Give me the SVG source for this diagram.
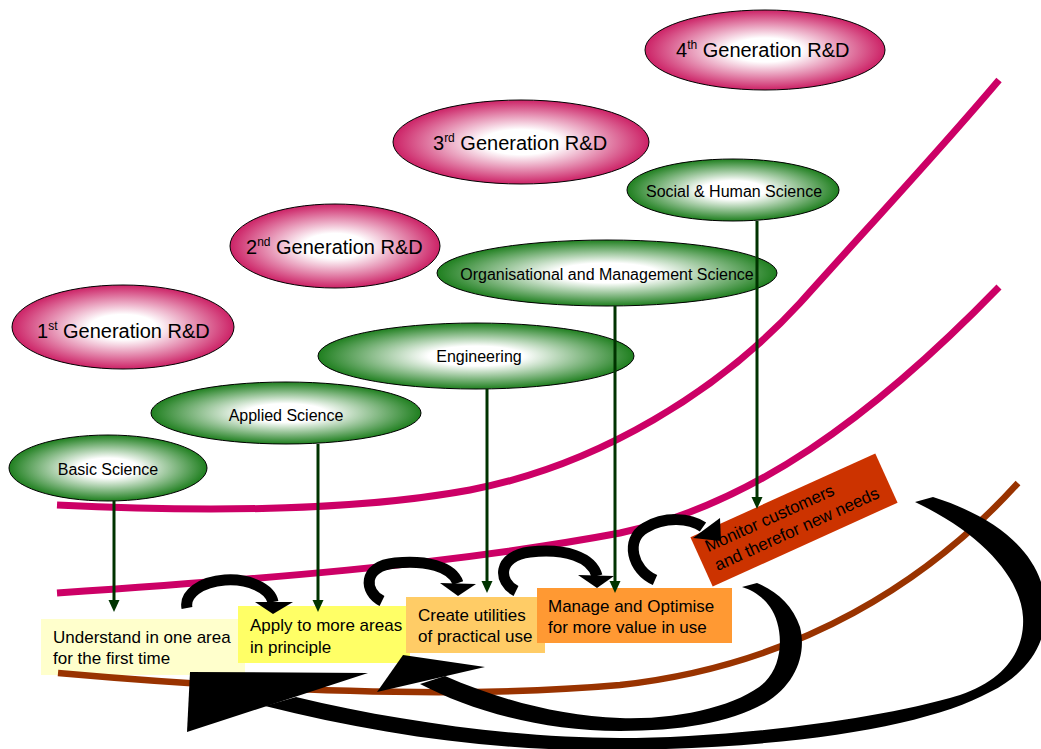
<svg xmlns="http://www.w3.org/2000/svg" width="1041" height="749" viewBox="0 0 1041 749">
<defs>
<radialGradient id="gPink" cx="50%" cy="50%" r="50%">
<stop offset="0" stop-color="#ffffff"/>
<stop offset="0.3" stop-color="#ffffff"/>
<stop offset="1" stop-color="#CC2266"/>
</radialGradient>
<radialGradient id="gGreen" cx="50%" cy="50%" r="50%">
<stop offset="0" stop-color="#ffffff"/>
<stop offset="0.3" stop-color="#ffffff"/>
<stop offset="1" stop-color="#1F7F1F"/>
</radialGradient>
<marker id="gArrow" viewBox="0 0 12 12" refX="2" refY="6" markerWidth="12" markerHeight="12" markerUnits="userSpaceOnUse" orient="auto">
<path d="M0,0.5 L12,6 L0,11.5 Z" fill="#003300"/>
</marker>
<style>
.pinkEl{fill:url(#gPink);stroke:#000;stroke-width:1}
.greenEl{fill:url(#gGreen);stroke:#000;stroke-width:1}
.gen{font-family:"Liberation Sans",Arial,sans-serif;font-size:20px;fill:#000}
.sci{font-family:"Liberation Sans",Arial,sans-serif;font-size:16px;fill:#000}
.box{font-family:"Liberation Sans",Arial,sans-serif;font-size:17px;fill:#000}
.band{fill:none;stroke-linecap:butt}
.gline{stroke:#003300;stroke-width:3;fill:none;marker-end:url(#gArrow)}
.arc{fill:none;stroke:#000;stroke-width:11;stroke-linecap:butt}
.blk{fill:#000}
</style>
</defs>

<g id="bands">
<path class="band" d="M57,505 C200,512 350,512 470,490 C600,465 720,390 800,303 C870,225 940,150 999,80" stroke="#CC0066" stroke-width="7"/>
<path class="band" d="M57,593 C250,580 450,565 620,533 C750,505 870,420 999,287" stroke="#CC0066" stroke-width="7"/>
</g>

<g id="gen1"><ellipse class="pinkEl" cx="123" cy="327" rx="111" ry="42"/><text class="gen" x="37" y="338">1<tspan dy="-8" font-size="12">st</tspan><tspan dy="8"> Generation R&amp;D</tspan></text></g>
<g id="gen2"><ellipse class="pinkEl" cx="335" cy="246" rx="105" ry="42"/><text class="gen" x="246" y="254">2<tspan dy="-8" font-size="12">nd</tspan><tspan dy="8"> Generation R&amp;D</tspan></text></g>
<g id="gen3"><ellipse class="pinkEl" cx="521" cy="142" rx="128" ry="42"/><text class="gen" x="433" y="150">3<tspan dy="-8" font-size="12">rd</tspan><tspan dy="8"> Generation R&amp;D</tspan></text></g>
<g id="gen4"><ellipse class="pinkEl" cx="765" cy="50" rx="120" ry="40"/><text class="gen" x="676" y="57">4<tspan dy="-8" font-size="12">th</tspan><tspan dy="8"> Generation R&amp;D</tspan></text></g>

<g id="basic"><ellipse class="greenEl" cx="108" cy="468" rx="99" ry="33"/><text class="sci" x="108" y="475" text-anchor="middle">Basic Science</text></g>
<g id="applied"><ellipse class="greenEl" cx="286" cy="413" rx="135" ry="31"/><text class="sci" x="286" y="421" text-anchor="middle">Applied Science</text></g>
<g id="engineering"><ellipse class="greenEl" cx="476" cy="356" rx="158" ry="33"/><text class="sci" x="479" y="362" text-anchor="middle">Engineering</text></g>
<g id="orgmgmt"><ellipse class="greenEl" cx="607" cy="273" rx="170" ry="33"/><text class="sci" x="607" y="280" text-anchor="middle" font-size="17">Organisational and Management Science</text></g>
<g id="social"><ellipse class="greenEl" cx="733" cy="190" rx="106" ry="31"/><text class="sci" x="734" y="197" text-anchor="middle" font-size="17">Social &amp; Human Science</text></g>

<g id="understand"><rect x="41" y="619" width="204" height="56" fill="#FFFFCC"/><text class="box" x="53" y="643">Understand in one area</text><text class="box" x="53" y="664">for the first time</text></g>
<g id="apply"><rect x="238" y="606" width="172" height="57" fill="#FFFF66"/><text class="box" x="250" y="631">Apply to more areas</text><text class="box" x="250" y="653">in principle</text></g>
<g id="create"><rect x="406" y="597" width="139" height="56" fill="#FFCC66"/><text class="box" x="418" y="621">Create utilities</text><text class="box" x="418" y="642">of practical use</text></g>
<g id="manage"><rect x="537" y="588" width="195" height="55" fill="#FF9933"/><text class="box" x="548" y="612">Manage and Optimise</text><text class="box" x="548" y="633">for more value in use</text></g>
<g id="monitor" transform="translate(794,520) rotate(-24.4)"><rect x="-101.5" y="-27" width="203" height="54" fill="#CC3300"/><text class="box" x="-91.5" y="-6">Monitor customers</text><text class="box" x="-90.5" y="15">and therefor new needs</text></g>

<g id="baseline">
<path class="band" d="M58,673 C250,690 450,700 620,685 C800,665 930,580 1018,483" stroke="#993300" stroke-width="6.5"/>
</g>

<g id="connectors">
<line class="gline" x1="114" y1="501" x2="114" y2="602"/>
<line class="gline" x1="318" y1="444" x2="318" y2="602"/>
<line class="gline" x1="487" y1="389" x2="487" y2="583"/>
<line class="gline" x1="615" y1="306" x2="615" y2="583"/>
<line class="gline" x1="757" y1="221" x2="757" y2="499"/>

<path class="arc" d="M187,608 A43,25 0 0 1 273,602"/>
<polygon class="blk" points="255,602 293,602 273,614"/>
<path class="arc" d="M382,601 C364,592 362,566 395,563 C425,560 452,566 458,583"/>
<polygon class="blk" points="440,583 476,584 458,596"/>
<path class="arc" d="M516,591 C498,582 497,556 530,552 C565,548 592,557 597,576"/>
<polygon class="blk" points="578,575 614,576 597,588"/>
<path class="arc" d="M655,580 C632,570 625,540 645,528 C665,516 690,518 703,527"/>
<polygon class="blk" points="720,518 693,538 721,541"/>

<path class="blk" d="M445,676 C500,700 560,716 620,718 C680,720 740,705 765,682 C785,662 783,625 770,607 C762,596 752,590 742,587 L757,583 C775,590 793,605 800,627 C807,655 795,685 765,703 C730,723 680,731 620,731 C540,731 470,710 420,684 Z"/>
<polygon class="blk" points="403,655 485,667 377,692"/>
<path class="blk" d="M296,697 C400,722 520,738 620,738 C720,738 870,722 960,695 C1005,680 1025,650 1023,617 C1021,580 985,535 915,502 L933,497 C990,515 1030,545 1042,585 C1055,630 1035,670 990,692 C930,725 800,748 620,750 C500,752 380,735 265,706 Z"/>
<polygon class="blk" points="190,672 368,673 187,732"/>
</g>
</svg>
